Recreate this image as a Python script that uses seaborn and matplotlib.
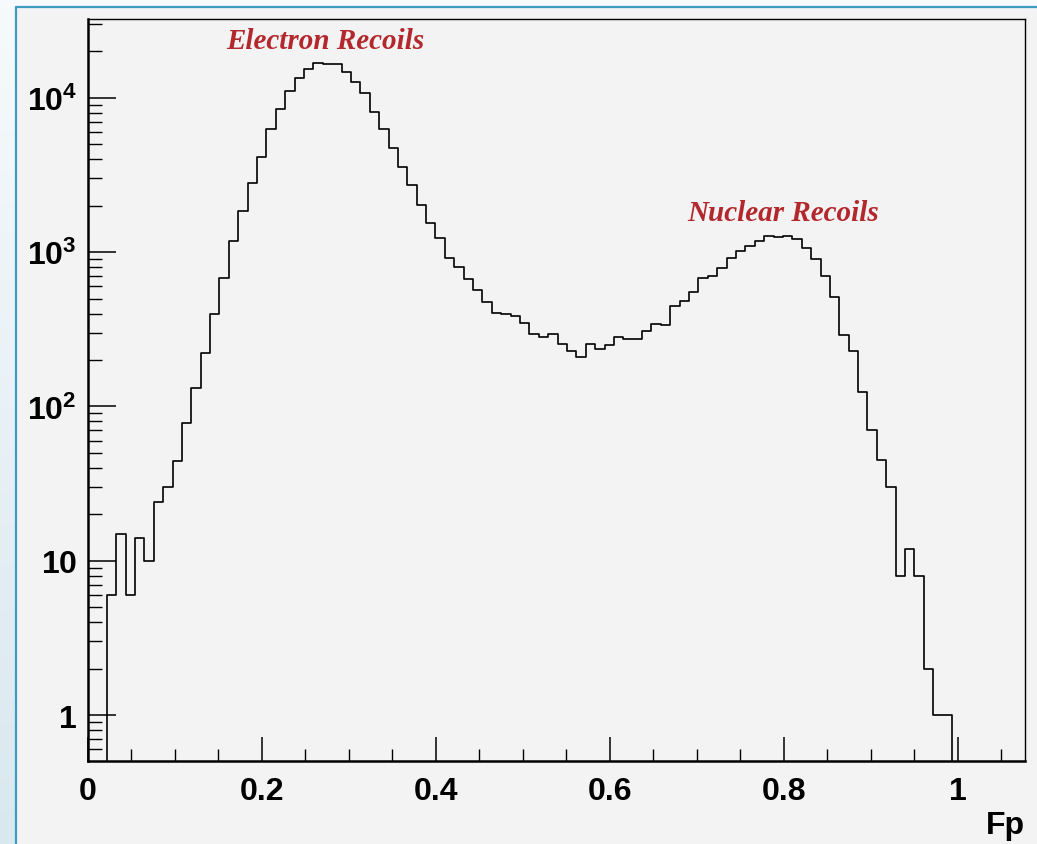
import numpy as np
import pandas as pd
import matplotlib
matplotlib.use("Agg")
import matplotlib.pyplot as plt
import seaborn as sns
from matplotlib.ticker import FixedLocator, MultipleLocator, LogLocator, NullFormatter
from matplotlib.patches import Rectangle
from matplotlib.lines import Line2D

# ---------------- data ----------------
bin_width = 0.0108          # histogram binning (100 bins over 0..1.08)
first_edge = 0.0216         # left edge of first filled bin
counts = [
    6, 15, 6, 14, 10, 24, 30, 44,                                   # bins 2-9
    78, 131, 222, 398, 677, 1172, 1849, 2786, 4141, 6279,           # 10-19
    8492, 11100, 13520, 15390, 16740, 16600, 16480, 14650, 12630, 10710,  # 20-29
    8040, 6280, 4735, 3570, 2717, 2030, 1555, 1240, 912, 797,       # 30-39
    669, 571, 474, 404, 400, 383, 348, 293, 282, 293,               # 40-49
    252, 229, 210, 252, 234, 249, 281, 274, 273, 310,               # 50-59
    341, 336, 445, 482, 549, 677, 703, 785, 910, 1020,              # 60-69
    1099, 1184, 1263, 1244, 1263, 1213, 1061, 901, 697, 510,        # 70-79
    292, 229, 124, 70, 45, 30, 8, 12, 8, 2, 1, 1,                   # 80-91
]
x_tick_values = [0, 0.2, 0.4, 0.6, 0.8, 1.0]
x_tick_labels = ["0", "0.2", "0.4", "0.6", "0.8", "1"]
y_tick_values = [1, 10, 100, 1000, 10000]
y_tick_labels = [r"$1$", r"$10$", r"$10^{2}$", r"$10^{3}$", r"$10^{4}$"]
annotation_texts = ["Electron Recoils", "Nuclear Recoils"]
annotation_x = [0.2726, 0.799]
annotation_y = [23500, 1800]
x_label = "Fp"

# ---------------- style ----------------
sns.set_theme(style="ticks")
plt.rcParams["font.family"] = ["Liberation Sans", "DejaVu Sans"]
plt.rcParams["mathtext.fontset"] = "custom"
plt.rcParams["mathtext.rm"] = "Liberation Sans:bold"
plt.rcParams["mathtext.it"] = "Liberation Sans:bold"
plt.rcParams["mathtext.bf"] = "Liberation Sans:bold"

BG = "#f3f3f3"
W, H = 1037, 845

# empty bins at both ends so the outline drops to the baseline
counts_padded = [0] + counts + [0]
n = len(counts_padded)
centers = first_edge - bin_width / 2 + bin_width * np.arange(n)
edges = list(first_edge - bin_width + bin_width * np.arange(n + 1))
df = pd.DataFrame({"Fp": centers, "n": counts_padded})

fig = plt.figure(figsize=(W / 100, H / 100), dpi=100, facecolor=BG)

# slide-like frame: pale gradient strip on the left and top, blue rule
bg_ax = fig.add_axes([0, 0, 16 / W, 1], zorder=-5)
grad = np.linspace(0, 1, 256).reshape(-1, 1)
bg_ax.imshow(grad, aspect="auto", cmap=matplotlib.colors.LinearSegmentedColormap.from_list(
    "g", ["#f6fafc", "#d9e8ef"]), extent=[0, 1, 0, 1], origin="upper")
bg_ax.set_axis_off()
fig.add_artist(Rectangle((0, 1 - 8 / H), 1, 8 / H, transform=fig.transFigure,
                         facecolor="#f7fafc", edgecolor="none", zorder=-4))
fig.add_artist(Line2D([16 / W, 16 / W], [0, 1 - 8 / H], transform=fig.transFigure,
                      color="#3d9bc1", lw=1.6))
fig.add_artist(Line2D([16 / W, 1], [1 - 8 / H, 1 - 8 / H], transform=fig.transFigure,
                      color="#3d9bc1", lw=1.6))

ax = fig.add_axes([88 / W, 1 - 761.7 / H, (1024.5 - 88) / W, (761.7 - 20) / H])
ax.set_facecolor(BG)
ax.set_yscale("log")

sns.histplot(data=df, x="Fp", weights="n", bins=edges, element="step", fill=False,
             color="black", linewidth=1.2, ax=ax)

ax.set_xlim(0, 1.077)
ax.set_ylim(0.506, 32400)
ax.set_ylabel("")
ax.set_xlabel(x_label, loc="right", fontsize=23, fontweight="bold", labelpad=3,
              color="black")

ax.xaxis.set_major_locator(FixedLocator(x_tick_values))
ax.set_xticklabels(x_tick_labels)
ax.xaxis.set_minor_locator(MultipleLocator(0.05))
ax.yaxis.set_major_locator(FixedLocator(y_tick_values))
ax.set_yticklabels(y_tick_labels)
ax.yaxis.set_minor_locator(LogLocator(base=10, subs=np.arange(2, 10) * 1.0, numticks=30))
ax.yaxis.set_minor_formatter(NullFormatter())

ax.tick_params(axis="both", which="both", direction="in", top=False, right=False,
               colors="black")
ax.tick_params(axis="x", which="major", length=17, width=1.1, pad=11, labelsize=23)
ax.tick_params(axis="x", which="minor", length=9, width=1.0)
ax.tick_params(axis="y", which="major", length=20, width=1.1, pad=8, labelsize=23)
ax.tick_params(axis="y", which="minor", length=10, width=1.0)
for lbl in ax.get_xticklabels():
    lbl.set_fontweight("bold")

for side in ["left", "bottom"]:
    ax.spines[side].set_linewidth(1.8)
    ax.spines[side].set_color("black")
for side in ["top", "right"]:
    ax.spines[side].set_linewidth(1.0)
    ax.spines[side].set_color("black")
    ax.spines[side].set_visible(True)

for txt, xx, yy in zip(annotation_texts, annotation_x, annotation_y):
    ax.text(xx, yy, txt, color="#b3282d", fontsize=21, fontweight="bold",
            fontstyle="italic", family=["Liberation Serif", "DejaVu Serif"],
            ha="center", va="center")

fig.savefig("out.png", dpi=100, facecolor=BG)
